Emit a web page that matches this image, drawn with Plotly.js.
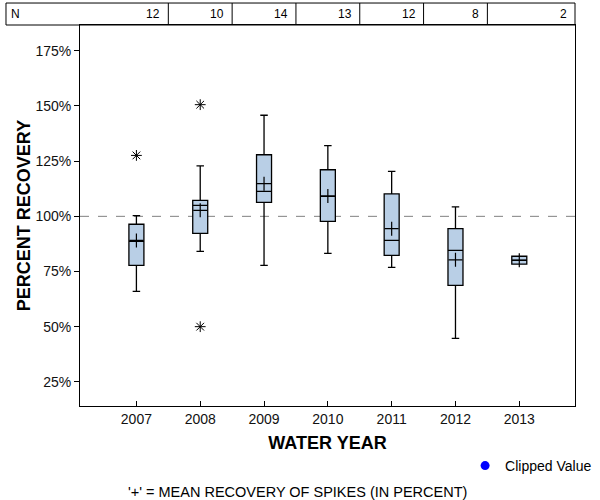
<!DOCTYPE html>
<html>
<head>
<meta charset="utf-8">
<script src="https://cdn.plot.ly/plotly-3.0.1.min.js"></script>
<style>html,body{margin:0;padding:0;background:#fff;}#chart{width:600px;height:500px;}</style>
</head>
<body>
<div id="chart"></div>
<script>
// ---- data ----
const years      = [2007, 2008, 2009, 2010, 2011, 2012, 2013];
const nCounts    = [12, 10, 14, 13, 12, 8, 2];
const lowerFence = [66.0, 84.1, 77.8, 83.2, 76.9, 44.7, 78.3];
const q1Vals     = [77.8, 92.3, 106.3, 97.7, 82.3, 68.7, 78.3];
const medianVals = [88.7, 105.0, 111.3, 109.1, 89.1, 84.6, 80.1];
const q3Vals     = [96.4, 107.2, 127.9, 121.1, 110.2, 94.4, 81.9];
const upperFence = [100.3, 122.9, 145.8, 132.0, 120.4, 104.3, 81.9];
const meanVals   = [89.1, 102.7, 114.8, 109.2, 94.4, 80.3, 80.1];
const outlierYears = [2007, 2008, 2008];
const outlierVals  = [127.6, 150.6, 50.0];
const yTicks = [25, 50, 75, 100, 125, 150, 175];

const FONT = 'Liberation Sans, Arial, sans-serif';
const xRange = [2006.116, 2013.873];
const tableTop = 1.0577;

const traces = [
  {
    type: 'box',
    x: years,
    q1: q1Vals, median: medianVals, q3: q3Vals,
    lowerfence: lowerFence, upperfence: upperFence,
    width: 0.235,
    whiskerwidth: 0.5,
    fillcolor: '#b9cfe6',
    line: {color: '#000000', width: 1.3},
    boxpoints: false,
    showlegend: false,
    hoverinfo: 'skip'
  },
  {
    type: 'scatter', mode: 'markers',
    x: years, y: meanVals,
    marker: {symbol: 'cross-thin-open', size: 10, color: '#000', line: {color: '#000', width: 1.2}},
    showlegend: false, hoverinfo: 'skip'
  },
  {
    type: 'scatter', mode: 'markers',
    x: outlierYears, y: outlierVals,
    marker: {symbol: 'asterisk-open', size: 9, color: '#000', line: {color: '#000', width: 1}},
    showlegend: false, hoverinfo: 'skip'
  },
  {
    type: 'scatter', mode: 'markers',
    x: [null], y: [null],
    name: 'Clipped Value',
    marker: {symbol: 'circle', size: 9, color: '#0000ff'},
    showlegend: true
  }
];

const shapes = [
  {type: 'line', xref: 'paper', yref: 'y', x0: 0, x1: 1, y0: 100, y1: 100,
   line: {color: '#808080', width: 1, dash: 'dash'}, layer: 'below'},
  {type: 'rect', xref: 'paper', yref: 'paper', x0: -0.1495, x1: 1, y0: 1, y1: tableTop,
   line: {color: '#000', width: 1}}
];
const annotations = [
  {xref: 'paper', yref: 'paper', x: -0.1495, y: (1 + tableTop) / 2, xanchor: 'left', yanchor: 'middle',
   xshift: 3, text: 'N', showarrow: false, font: {family: FONT, size: 12, color: '#000'}},
  {xref: 'paper', yref: 'paper', x: 0.44, y: -0.2257, xanchor: 'center', yanchor: 'middle',
   text: "'+' = MEAN RECOVERY OF SPIKES (IN PERCENT)", showarrow: false,
   font: {family: FONT, size: 14.5, color: '#000'}}
];
years.forEach((yr, i) => {
  const right = i < years.length - 1 ? yr + 0.5 : xRange[1];
  if (i < years.length - 1) {
    shapes.push({type: 'line', xref: 'x', yref: 'paper', x0: right, x1: right, y0: 1, y1: tableTop,
                 line: {color: '#000', width: 1}});
  }
  annotations.push({xref: 'x', yref: 'paper', x: right, y: (1 + tableTop) / 2, xanchor: 'right', yanchor: 'middle',
                    xshift: -6, text: String(nCounts[i]), showarrow: false,
                    font: {family: FONT, size: 12, color: '#000'}});
});

const layout = {
  width: 600, height: 500,
  margin: {l: 80, r: 25, t: 25, b: 94, autoexpand: false},
  paper_bgcolor: '#fff', plot_bgcolor: '#fff',
  font: {family: FONT, size: 14, color: '#000'},
  xaxis: {
    range: xRange, tickvals: years, ticktext: years.map(String),
    ticks: 'inside', ticklen: 5, tickcolor: '#000',
    showline: true, linecolor: '#000', linewidth: 1, mirror: true,
    showgrid: false, zeroline: false, automargin: false,
    tickfont: {family: FONT, size: 14, color: '#111'},
    title: {text: 'WATER YEAR', font: {family: FONT, size: 18, color: '#000', weight: 'bold'}, standoff: 10}
  },
  yaxis: {
    range: [14.05, 186.7], tickvals: yTicks, ticktext: yTicks.map(v => v + '%'),
    ticks: 'outside', ticklen: 5, tickcolor: '#000',
    showline: true, linecolor: '#000', linewidth: 1, mirror: true,
    showgrid: false, zeroline: false, automargin: false,
    tickfont: {family: FONT, size: 14, color: '#111'},
    title: {text: 'PERCENT RECOVERY', font: {family: FONT, size: 18, color: '#000', weight: 'bold'}, standoff: 0}
  },
  showlegend: true,
  legend: {x: 0.778, xanchor: 'left', y: -0.1575, yanchor: 'middle',
           font: {family: FONT, size: 14, color: '#000'}, bgcolor: 'rgba(0,0,0,0)'},
  shapes: shapes,
  annotations: annotations
};

Plotly.newPlot('chart', traces, layout, {displayModeBar: false, staticPlot: true});
</script>
</body>
</html>
